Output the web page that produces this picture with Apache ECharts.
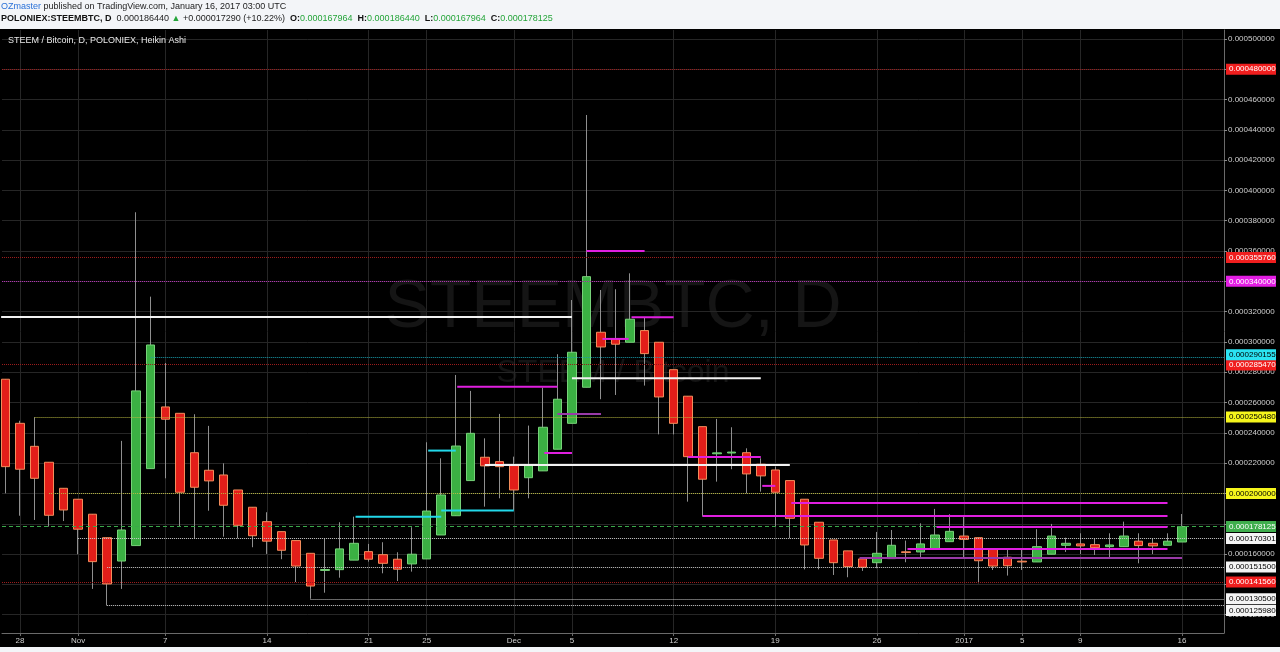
<!DOCTYPE html>
<html><head><meta charset="utf-8">
<script src="https://cdn.jsdelivr.net/npm/echarts@6/dist/echarts.min.js"></script>
<style>html,body{margin:0;padding:0;background:#000;}#c{width:1280px;height:652px;}</style>
</head><body><div id="c"></div>
<script>
// values in micro-BTC (1e-6 BTC); day index 0 = 2016-10-27
const UNIT = 1e-6;
const xTickDays   = [1, 5, 11, 18, 25, 29, 35, 39, 46, 53, 60, 66, 70, 74, 81];
const xTickLabels = ['28','Nov','7','14','21','25','Dec','5','12','19','26','2017','5','9','16'];
const yTicks = [120,140,160,180,200,220,240,260,280,300,320,340,360,380,400,420,440,460,480,500];

const opens = [275.4,246.3,231.1,220.6,203.4,196.2,186.3,170.8,155.4,165.6,
  216.4,257.1,252.9,226.9,215.3,212.2,202.3,190.9,181.4,174.8,
  168.9,160.5,149.2,149.7,156.0,161.6,159.6,156.6,153.5,156.8,
  172.6,185.3,208.5,223.9,221.0,218.4,210.4,214.9,229.2,246.3,
  270.1,306.4,302.0,299.8,307.5,299.8,281.7,264.2,244.1,226.2,
  226.7,226.9,219.3,215.5,208.5,196.2,181.0,169.3,162.1,156.8,
  154.3,157.0,161.5,161.4,163.6,168.2,171.9,170.8,163.2,157.9,
  155.3,154.8,159.9,165.8,166.7,166.2,164.9,164.9,168.5,167.1,
  165.8,167.964];
const closes = [217.7,216.0,210.0,185.6,189.1,176.4,155.0,140.3,175.9,267.7,
  298.0,249.0,200.8,204.1,208.3,192.2,179.0,172.1,168.5,162.5,
  152.1,138.9,149.8,163.4,167.1,156.6,153.9,150.0,159.9,188.4,
  199.0,231.3,239.7,218.2,217.7,202.3,218.4,243.7,262.2,293.2,
  343.1,296.7,298.5,315.0,292.3,263.7,246.3,224.3,209.4,226.8,
  227.3,212.9,211.6,200.8,183.6,166.0,157.2,154.3,151.7,151.3,
  160.5,165.8,161.0,166.7,172.6,175.0,169.7,155.6,152.1,152.3,
  154.8,164.9,171.9,167.1,165.4,164.2,166.0,171.9,165.6,165.4,
  168.5,178.125];
const lows = [200.1,185.3,182.5,178.1,181.8,159.9,137.0,125.98,137.0,165.6,
  216.4,210.0,178.5,170.4,188.6,171.5,170.4,164.5,160.1,156.6,
  141.56,130.5,134.5,144.4,156.0,155.0,147.3,142.2,148.4,156.8,
  172.6,185.3,208.5,191.3,196.8,189.1,196.8,214.9,229.2,246.3,
  270.1,262.2,265.0,299.8,271.2,239.0,239.0,194.6,184.7,207.8,
  216.0,200.1,201.2,178.1,170.4,149.9,149.9,146.2,144.7,148.9,
  150.6,157.0,154.6,157.0,163.6,168.2,157.6,140.7,149.5,145.8,
  149.5,154.8,159.9,161.4,160.0,159.4,157.6,164.9,153.9,160.0,
  165.8,167.964];
const highs = [275.4,248.0,250.3,220.6,203.4,196.2,186.3,170.8,234.7,385.6,
  329.9,286.1,252.9,252.3,244.6,219.9,202.3,190.9,187.6,174.8,
  168.9,160.5,170.4,181.0,184.7,166.7,167.8,161.2,177.7,233.8,
  223.2,278.2,267.7,236.4,252.5,224.3,244.8,269.9,291.9,327.7,
  449.8,334.3,334.8,345.3,316.3,299.8,281.7,264.2,244.1,249.2,
  243.7,229.8,223.2,217.7,208.5,196.2,181.0,169.3,162.1,157.9,
  174.6,175.9,168.9,180.3,189.8,186.3,184.7,170.8,163.2,162.7,
  162.7,176.4,179.9,170.8,173.7,170.4,173.7,181.4,173.7,170.4,
  173.7,186.44];

// horizontal levels: [value, startDay] (startDay null = full width)
const redLevels     = [[480.0,null],[355.76,null],[285.47,null],[141.56,null]];
const magentaLevels = [[340.0,null]];
const cyanLevels    = [[290.155,10]];
const yellowLevels  = [[250.48,2],[200.0,3]];
const whiteLevels   = [[170.301,5],[151.5,7],[130.5,21],[125.98,7]];
const lastPrice     = 178.125;

// drawn segments: [value, fromDay, toDay]
const whiteSegs   = [[316.5,-0.3,39],[276.0,39,52],[218.8,33,54]];
const magentaSegs = [[360.1,40,44],[316.3,43.1,46],[270.5,31.1,38],[302.0,41.1,42.9],[226.7,37.1,39],
                     [224.0,47,52],[205.0,52.1,53],[185.1,48,80],[193.7,54.1,80],[177.9,64.1,80],[163.4,62.1,80]];
const purpleSegs  = [[252.5,38,41],[157.4,58.8,81]];
const cyanSegs    = [[228.3,29.1,31],[188.8,30,35],[184.6,24.1,30]];

const X_MIN = -0.24, X_MAX = 83.89;
const FONT = "'Liberation Sans',Arial,sans-serif";
const fmt = v => (v * UNIT).toFixed(9);
// small vertical nudges for tags that would collide
const tagNudge = {290.155:-2, 285.47:1, 125.98:5};

const chart = echarts.init(document.getElementById('c'));

const wickData = opens.map((o,i)=>[i,o,closes[i],lows[i],highs[i]]);
const bodyData = opens.map((o,i)=>[i,o,closes[i],Math.min(o,closes[i]),Math.max(o,closes[i])]);

function tag(bg, fg, v){
  return {show:true, position:'end', distance:2, formatter:()=>fmt(v),
    backgroundColor:bg, color:fg, fontSize:8, fontFamily:FONT, padding:[2,4,1,3], width:43,
    offset:[0, tagNudge[v]||0]};
}
const markData = [];
function addLevels(list, lineColor, type, bg, fg){
  list.forEach(([v,start])=>{
    const ls = {color:lineColor, type:type, width:1};
    if(start===null){
      markData.push({yAxis:v, lineStyle:ls, label:tag(bg,fg,v)});
    } else {
      markData.push([{coord:[start,v], lineStyle:ls, label:tag(bg,fg,v)},{coord:[X_MAX,v]}]);
    }
  });
}
addLevels(redLevels, '#9c1c1c', 'dotted', '#f01e1e', '#fff');
addLevels(magentaLevels, '#b02cb0', 'dotted', '#e41ee4', '#fff');
addLevels(cyanLevels, '#1a9fb0', 'dotted', '#2be3f2', '#000');
addLevels(yellowLevels, '#b9b940', 'dotted', '#f6f61c', '#000');
addLevels(whiteLevels, '#cfcfcf', 'dotted', '#f4f4f4', '#000');
addLevels([[lastPrice,null]], '#3aa84a', [4,3], '#3fae4d', '#fff');

function segSeries(list, color, width){
  return list.map(([v,a,b])=>({type:'line', data:[[a,v],[b,v]], symbol:'none', z:6, silent:true,
    lineStyle:{color:color, width:width}, animation:false}));
}

const series = [
  {type:'candlestick', data:wickData, barWidth:1, z:3, animation:false,
   itemStyle:{color:'#8f8f8f', color0:'#8f8f8f', borderColor:'#8f8f8f', borderColor0:'#8f8f8f', borderWidth:1}},
  {type:'candlestick', data:bodyData, barWidth:9, z:4, animation:false,
   itemStyle:{color:'#3bb043', color0:'#e21e19', borderColor:'#77d279', borderColor0:'#f38d5c', borderWidth:1}},
  {type:'line', data:[], z:5, animation:false,
   markLine:{silent:true, symbol:['none','none'], animation:false, data:markData}},
  ...segSeries(whiteSegs, '#f2f2f2', 2),
  ...segSeries(magentaSegs, '#e01fe0', 2),
  ...segSeries(purpleSegs, '#9a3aa8', 2),
  ...segSeries(cyanSegs, '#22d8ea', 2)
];

const xLabelMap = {};
xTickDays.forEach((d,i)=>xLabelMap[d]=xTickLabels[i]);

chart.setOption({
  backgroundColor:'#000',
  animation:false,
  grid:{left:2, right:56, top:30, bottom:19, containLabel:false},
  xAxis:{type:'value', min:X_MIN, max:X_MAX,
    axisLine:{show:true, onZero:false, lineStyle:{color:'#6a6a6a'}},
    axisTick:{show:true, length:3, lineStyle:{color:'#6a6a6a'}, customValues:xTickDays},
    axisLabel:{customValues:xTickDays, color:'#cfcfcf', fontSize:8, fontFamily:FONT, margin:4,
      formatter:v=>xLabelMap[Math.round(v)]||''},
    splitLine:{show:true, lineStyle:{color:'#262626'}}},
  yAxis:{type:'value', position:'right', min:107.9, max:505.9, scale:true,
    axisLine:{show:true, onZero:false, lineStyle:{color:'#6a6a6a'}},
    axisTick:{show:true, length:3, lineStyle:{color:'#8a8a8a'}, customValues:yTicks},
    axisLabel:{customValues:yTicks, color:'#cfcfcf', fontSize:8, fontFamily:FONT, margin:4, formatter:fmt},
    splitLine:{show:true, lineStyle:{color:'#262626'}}},
  graphic:{elements:[
    {type:'text', z:-10, silent:true, style:{x:613, y:308, text:'STEEMBTC, D', fill:'#151515',
      font:"68px 'Liberation Sans',Arial,sans-serif", textAlign:'center', textVerticalAlign:'middle'}},
    {type:'text', z:-10, silent:true, style:{x:613, y:373, text:'STEEM / Bitcoin', fill:'#141414',
      font:"32px 'Liberation Sans',Arial,sans-serif", textAlign:'center', textVerticalAlign:'middle'}},
    {type:'rect', z:100, silent:true, shape:{x:0,y:0,width:1280,height:29}, style:{fill:'#f3f5f8'}},
    {type:'rect', z:100, silent:true, shape:{x:0,y:647,width:1280,height:5}, style:{fill:'#f3f5f8'}},
    {type:'text', z:101, silent:true, style:{x:1, y:7, textVerticalAlign:'middle',
      text:'{a|OZmaster} published on TradingView.com, January 16, 2017 03:00 UTC',
      font:"9px "+FONT, fill:'#222', rich:{a:{fill:'#2a72d8', font:"9px "+FONT}}}},
    {type:'text', z:101, silent:true, style:{x:1, y:19, textVerticalAlign:'middle',
      text:'{b|POLONIEX:STEEMBTC, D}  0.000186440 {g|▲} +0.000017290 (+10.22%)  {b|O:}{g|0.000167964}  {b|H:}{g|0.000186440}  {b|L:}{g|0.000167964}  {b|C:}{g|0.000178125}',
      font:"9px "+FONT, fill:'#222',
      rich:{b:{fill:'#111', font:"bold 9px "+FONT}, g:{fill:'#25a53a', font:"9px "+FONT}}}},
    {type:'text', z:101, silent:true, style:{x:8, y:41, textVerticalAlign:'middle',
      text:'STEEM / Bitcoin, D, POLONIEX, Heikin Ashi', fill:'#e8e8e8', font:"9px "+FONT}}
  ]},
  series:series
});
</script></body></html>
